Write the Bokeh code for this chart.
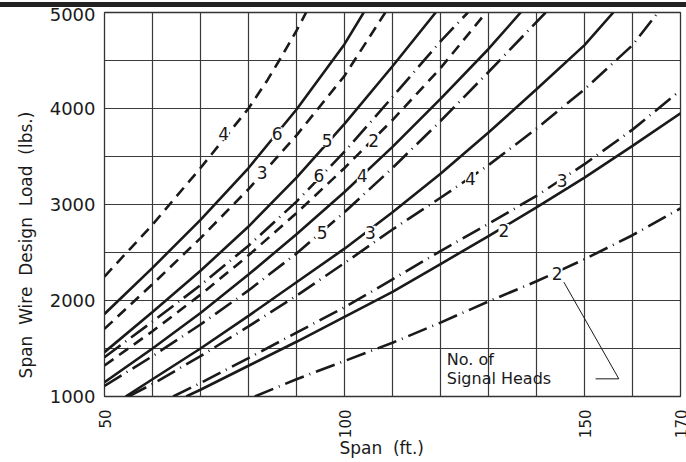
import math
from bokeh.plotting import figure
from bokeh.layouts import column
from bokeh.models import Range1d, FixedTicker, Label, Div
from bokeh.embed import file_html
from bokeh.resources import INLINE

# ---- data (span ft, load lbs) ----
sd4_x = [50, 60, 70, 80, 84, 87, 90, 92]
sd4_y = [2250, 2790, 3380, 4000, 4300, 4550, 4810, 5000]
sd3_x = [50, 60, 70, 80, 90, 100, 108.5]
sd3_y = [1705, 2170, 2650, 3160, 3720, 4340, 5000]
sd2_x = [50, 60, 70, 80, 90, 100, 110, 120, 129.5]
sd2_y = [1323, 1680, 2060, 2470, 2910, 3380, 3880, 4420, 5000]

s6_x = [50, 60, 70, 80, 90, 100, 104]
s6_y = [1860, 2340, 2840, 3380, 3990, 4670, 5000]
s5_x = [50, 60, 70, 80, 90, 100, 110, 119]
s5_y = [1462, 1880, 2310, 2770, 3280, 3840, 4440, 5000]
s4_x = [50, 60, 70, 80, 90, 100, 110, 120, 130, 136.7]
s4_y = [1149, 1500, 1870, 2270, 2690, 3130, 3600, 4100, 4620, 5000]
s3_x = [54.4, 60, 70, 80, 90, 100, 110, 120, 130, 140, 150, 156]
s3_y = [1000, 1180, 1500, 1840, 2190, 2540, 2920, 3320, 3750, 4200, 4660, 5000]
s2_x = [67, 70, 80, 90, 100, 110, 120, 130, 140, 150, 160, 170]
s2_y = [1000, 1070, 1320, 1570, 1830, 2090, 2380, 2670, 2970, 3280, 3610, 3950]

dd6_x = [50, 60, 70, 80, 90, 100, 110, 120, 125.7]
dd6_y = [1410, 1780, 2160, 2570, 3030, 3550, 4120, 4700, 5000]
dd5_x = [50, 60, 70, 80, 90, 100, 110, 120, 130, 141.9]
dd5_y = [1110, 1420, 1750, 2105, 2490, 2920, 3380, 3870, 4380, 5000]
dd4_x = [55, 60, 70, 80, 90, 100, 110, 120, 130, 140, 150, 160, 165.3]
dd4_y = [1000, 1130, 1420, 1730, 2050, 2390, 2740, 3070, 3410, 3790, 4200, 4660, 5000]
dd3_x = [64.3, 70, 80, 90, 100, 110, 120, 130, 140, 150, 160, 170]
dd3_y = [1000, 1140, 1400, 1665, 1930, 2220, 2515, 2800, 3090, 3420, 3780, 4190]
dd2_x = [81.3, 90, 100, 110, 120, 130, 140, 150, 160, 170]
dd2_y = [1000, 1180, 1370, 1560, 1770, 1990, 2200, 2430, 2680, 2960]

# curve labels (number of signal heads)
lab_x = [74.85, 85.98, 82.85, 96.4, 106.1, 94.65, 103.7, 95.35, 105.4, 126.25, 145.35, 133.2, 144.3]
lab_y = [3736, 3736, 3336, 3667, 3667, 3302, 3302, 2711, 2711, 3267, 3250, 2729, 2278]
lab_t = ["4", "6", "3", "5", "2", "6", "4", "5", "3", "4", "3", "2", "2"]

x_ticks = [50, 100, 150, 170]
y_ticks = [1000, 2000, 3000, 4000, 5000]
x_grid = list(range(50, 171, 10))
y_grid = list(range(1000, 5001, 500))

# leader line for the note
lead_x = [145.7, 157.15, 152.3]
lead_y = [2191, 1184, 1184]

FONT = "DejaVu Sans"
INK = "#1a1a1a"
NB = "\u00a0"

# thick rule across the top of the sheet
bar = Div(text="", width=686, height=5, margin=(2, 0, 0, 0),
          styles={"background-color": "#222222"})

p = figure(width=686, height=455, output_backend="svg", toolbar_location=None,
           x_range=Range1d(50, 170), y_range=Range1d(1000, 5000),
           min_border_left=104, min_border_right=6, min_border_top=5, min_border_bottom=66)
p.margin = (0, 0, 0, 0)
p.background_fill_color = "white"
p.border_fill_color = "white"
p.outline_line_color = "#333333"
p.outline_line_width = 1.3

p.xgrid.ticker = FixedTicker(ticks=x_grid)
p.ygrid.ticker = FixedTicker(ticks=y_grid)
for g in (p.xgrid, p.ygrid):
    g.grid_line_color = "#3a3a3a"
    g.grid_line_width = 1.2
    g.grid_line_alpha = 1.0

p.xaxis.ticker = FixedTicker(ticks=x_ticks)
p.yaxis.ticker = FixedTicker(ticks=y_ticks)
for ax in (p.xaxis, p.yaxis):
    ax.axis_line_color = None
    ax.major_tick_line_color = None
    ax.minor_tick_line_color = None
    ax.major_tick_out = 0
    ax.major_tick_in = 0
    ax.major_label_text_font = FONT
    ax.major_label_text_color = INK
    ax.axis_label_text_font = FONT
    ax.axis_label_text_font_style = "normal"
    ax.axis_label_text_color = INK
    ax.axis_label_text_font_size = "17px"
p.xaxis.major_label_orientation = math.pi / 2
p.xaxis.major_label_text_font_size = "15px"
p.xaxis.major_label_standoff = 13
p.yaxis.major_label_text_font_size = "18px"
p.yaxis.major_label_standoff = 9

p.xaxis.axis_label = "Span" + NB + " (ft.)" + NB * 4
p.xaxis.axis_label_standoff = -3
p.yaxis.axis_label = ("Span" + NB + " Wire" + NB + " Design" + NB + " Load" + NB + " (lbs.)") + NB * 15
p.yaxis.axis_label_standoff = 11

SD = "11 7"
DD = "20 6 1 6"
LW = 2.6
for xs, ys in [(sd4_x, sd4_y), (sd3_x, sd3_y), (sd2_x, sd2_y)]:
    p.line(xs, ys, line_color=INK, line_width=LW, line_dash=SD)
for xs, ys in [(s6_x, s6_y), (s5_x, s5_y), (s4_x, s4_y), (s3_x, s3_y), (s2_x, s2_y)]:
    p.line(xs, ys, line_color=INK, line_width=LW)
for xs, ys in [(dd6_x, dd6_y), (dd5_x, dd5_y), (dd4_x, dd4_y), (dd3_x, dd3_y), (dd2_x, dd2_y)]:
    p.line(xs, ys, line_color=INK, line_width=LW, line_dash=DD)

p.line(lead_x, lead_y, line_color=INK, line_width=1)

for lx, ly, lt in zip(lab_x, lab_y, lab_t):
    p.add_layout(Label(x=lx, y=ly, text=lt, text_align="center", text_baseline="middle",
                       text_font=FONT, text_font_size="17px", text_color=INK,
                       background_fill_color="white"))

p.add_layout(Label(x=121.3, y=1385, text="No. of", text_align="left", text_baseline="middle",
                   text_font=FONT, text_font_size="16px", text_color=INK))
p.add_layout(Label(x=121.3, y=1187, text="Signal Heads", text_align="left", text_baseline="middle",
                   text_font=FONT, text_font_size="16px", text_color=INK))

page = column(bar, p, spacing=0)
open("out.html", "w").write(file_html(page, INLINE))
